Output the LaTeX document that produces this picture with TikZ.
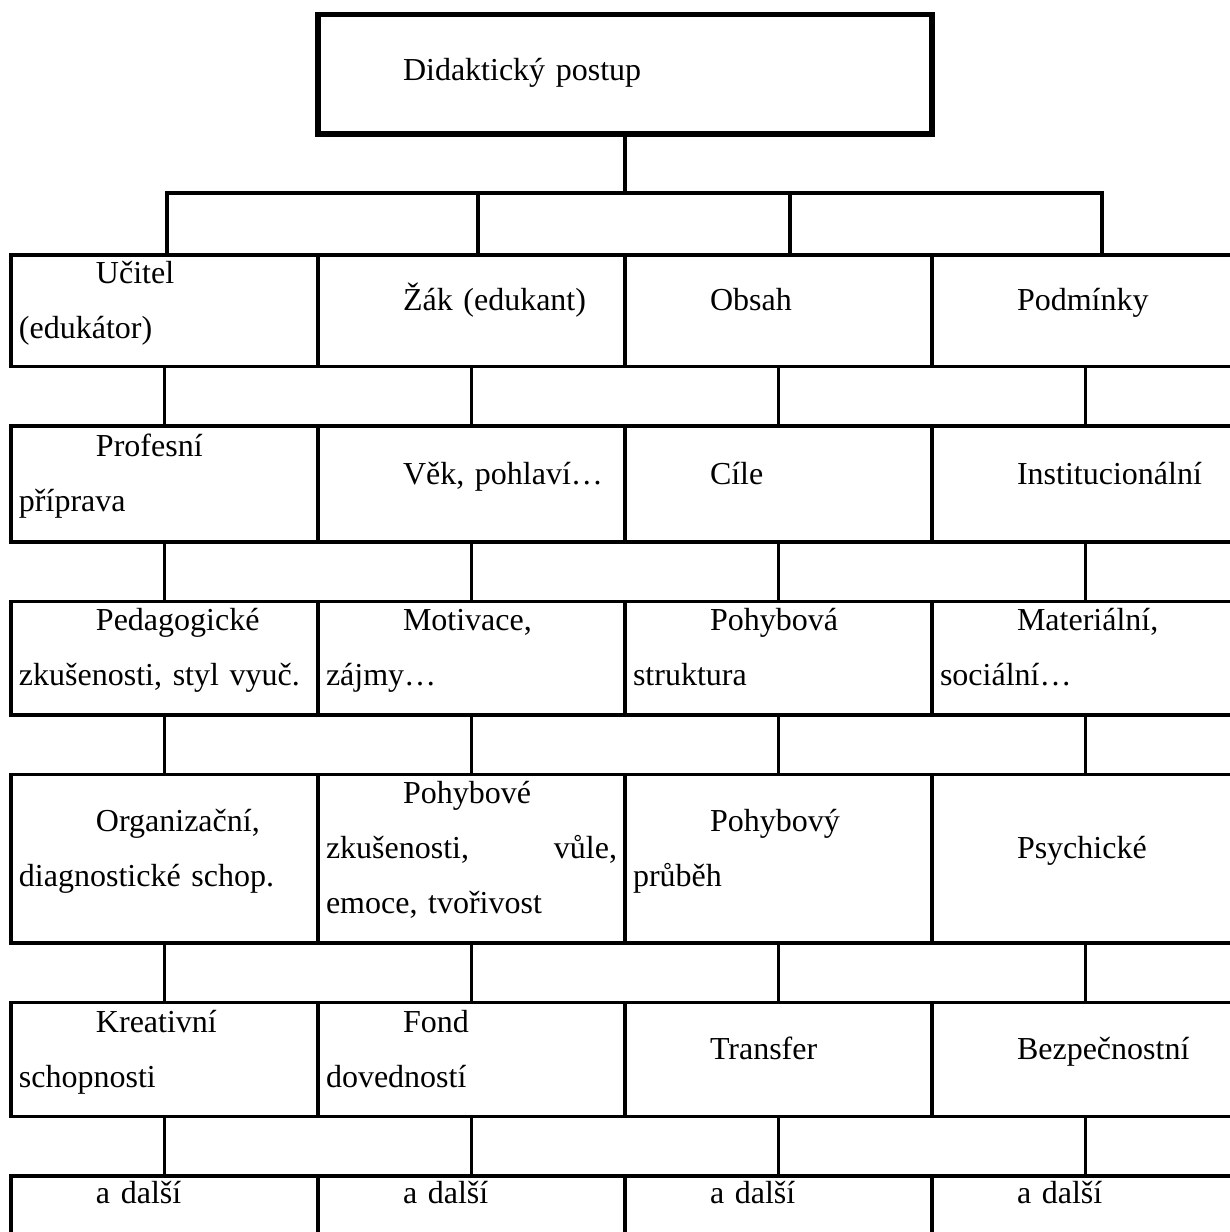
\documentclass[tikz,border=0pt]{standalone}
\usepackage{fontspec}
\setmainfont{Liberation Serif}
\usepackage{tikz}
\usetikzlibrary{positioning}

\newcommand{\cellstrut}{\rule[-27.5pt]{0pt}{55pt}}

\begin{document}
\begin{tikzpicture}[x=1pt,y=-1pt,node distance=59.5pt,line width=3.3pt,
    cell node/.style={rectangle,draw,outer sep=0pt,inner xsep=8pt,inner ysep=0pt,
      minimum width=307pt,text width=291pt,minimum height=#1,align=left,
      font=\fontsize{32pt}{55pt}\selectfont,
      execute at begin node=\cellstrut\hspace*{77pt},
      execute at end node=\cellstrut},
    cell node/.default=113.5pt,
    last node/.style={cell node=112pt,text height=27.5pt,text depth=85.5pt},
    head node/.style={cell node=119.5pt,line width=5.5pt,minimum width=614pt,
      text width=598pt,text height=27.5pt,text depth=16pt}]

  \useasboundingbox (0,0) rectangle (1230,1232);
  \clip (0,0) rectangle (1230,1232);

  \node[head node] (0) at (625,74.25) {Didaktický postup};

  \node[cell node=111.5pt,anchor=north west] (1) at (11,255) {Učitel\\(edukátor)};
  \node[cell node=111.5pt] (2) [right=0pt of 1] {Žák (edukant)};
  \node[cell node=111.5pt] (3) [right=0pt of 2] {Obsah};
  \node[cell node=111.5pt] (4) [right=0pt of 3] {Podmínky};

  \node[cell node=116pt] (5) [below=of 1] {Profesní\\příprava};
  \node[cell node=116pt] (6) [right=0pt of 5] {Věk, pohlaví…};
  \node[cell node=116pt] (7) [right=0pt of 6] {Cíle};
  \node[cell node=116pt] (8) [right=0pt of 7] {Institucionální};

  \node[cell node] (9) [below=of 5] {Pedagogické\\zkušenosti, styl vyuč.};
  \node[cell node] (10) [right=0pt of 9] {Motivace,\\zájmy…};
  \node[cell node] (11) [right=0pt of 10] {Pohybová\\struktura};
  \node[cell node] (12) [right=0pt of 11] {Materiální,\\sociální…};

  \node[cell node=168.5pt] (13) [below=of 9] {Organizační,\\diagnostické schop.};
  \node[cell node=168.5pt] (14) [right=0pt of 13] {Pohybové\\zkušenosti,\hfill vůle,\\emoce, tvořivost};
  \node[cell node=168.5pt] (15) [right=0pt of 14] {Pohybový\\průběh};
  \node[cell node=168.5pt] (16) [right=0pt of 15] {Psychické};

  \node[cell node=114pt] (17) [below=of 13] {Kreativní\\schopnosti};
  \node[cell node=114pt] (18) [right=0pt of 17] {Fond\\dovedností};
  \node[cell node=114pt] (19) [right=0pt of 18] {Transfer};
  \node[cell node=114pt] (20) [right=0pt of 19] {Bezpečnostní};

  \node[last node] (21) [below=of 17] {a další};
  \node[last node] (22) [right=0pt of 21] {a další};
  \node[last node] (23) [right=0pt of 22] {a další};
  \node[last node] (24) [right=0pt of 23] {a další};

  % bar under the head box
  \coordinate (s) at (625,193);
  \coordinate (t1) at (167,193);
  \coordinate (t2) at (478,193);
  \coordinate (t3) at (790,193);
  \coordinate (t4) at (1102,193);
  \draw (0) -- (s);
  \draw (t1 |- 1.north) -- (t1) -- (t4) -- (t4 |- 4.north);
  \draw (t2) -- (t2 |- 2.north);
  \draw (t3) -- (t3 |- 3.north);

  \path
    (1) edge (5)   (2) edge (6)   (3) edge (7)   (4) edge (8)
    (5) edge (9)   (6) edge (10)  (7) edge (11)  (8) edge (12)
    (9) edge (13)  (10) edge (14) (11) edge (15) (12) edge (16)
    (13) edge (17) (14) edge (18) (15) edge (19) (16) edge (20)
    (17) edge (21) (18) edge (22) (19) edge (23) (20) edge (24);
\end{tikzpicture}
\end{document}
